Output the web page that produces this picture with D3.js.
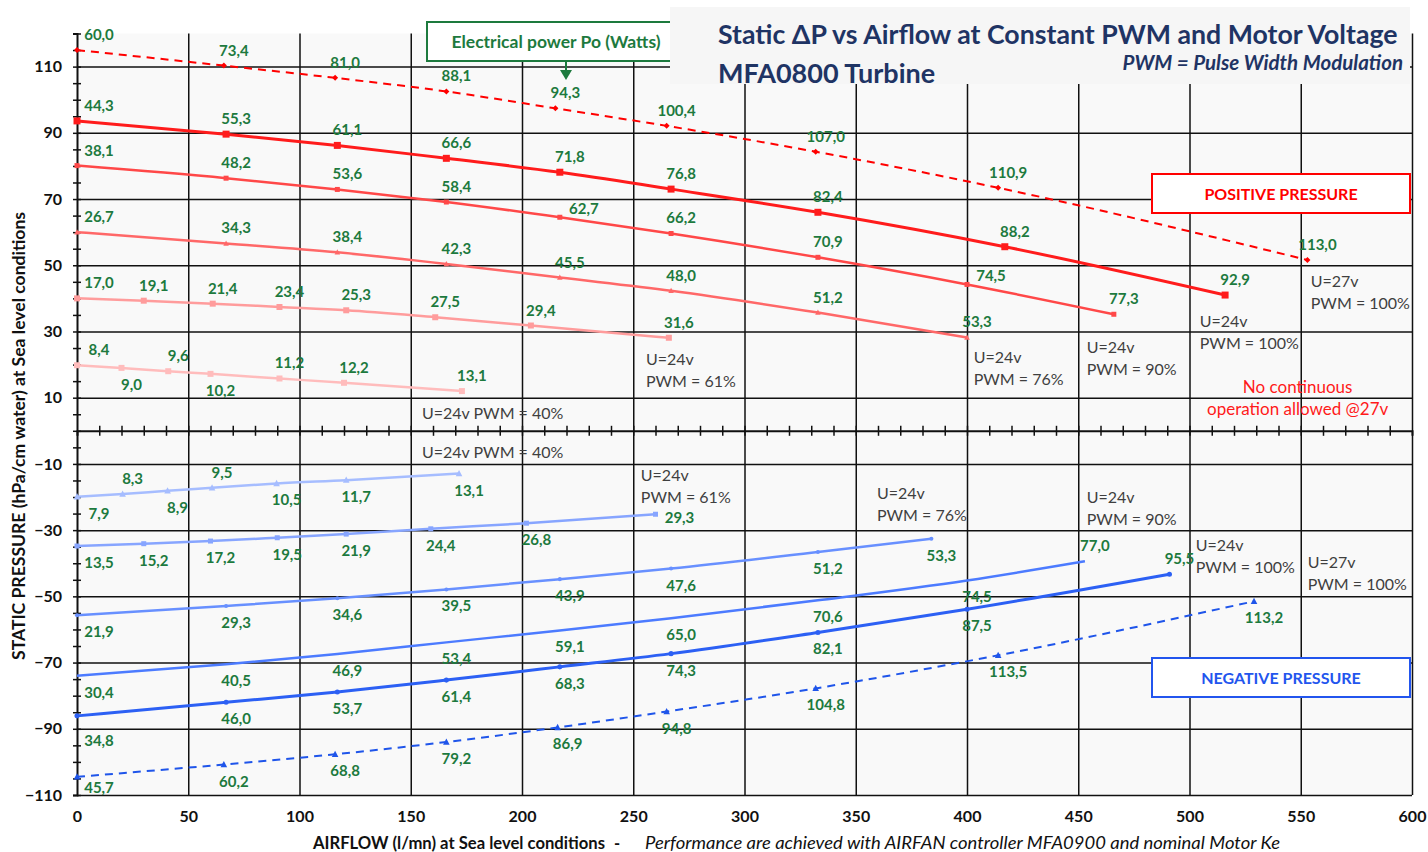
<!DOCTYPE html>
<html>
<head>
<meta charset="utf-8">
<script src="https://cdn.jsdelivr.net/npm/d3@7"></script>
<style>
  body { margin: 0; background: #fff; }
  svg { font-family: Lato, "Open Sans", sans-serif; }
</style>
</head>
<body>
<svg id="chart"></svg>
<script>
// ---- data (airflow l/mn, static pressure hPa, power W) ----
// positive pressure
const p27Flow  = [0, 66, 116, 166, 215, 265, 332, 414, 553];
const p27Press = [115, 110.3, 106.6, 102.5, 97.4, 92.1, 84.3, 73.4, 51.6];
const p27Watts = [60.0, 73.4, 81.0, 88.1, 94.3, 100.4, 107.0, 110.9, 113.0];

const p100Flow  = [0, 67, 117, 166, 217, 267, 333, 417, 516];
const p100Press = [93.6, 89.6, 86.2, 82.3, 78.1, 73.0, 66.0, 55.6, 41.0];
const p100Watts = [44.3, 55.3, 61.1, 66.6, 71.8, 76.8, 82.4, 88.2, 92.9];

const p90Flow  = [0, 67, 117, 166, 217, 267, 333, 400, 466];
const p90Press = [80.1, 76.3, 72.9, 69.1, 64.5, 59.6, 52.4, 44.2, 35.2];
const p90Watts = [38.1, 48.2, 53.6, 58.4, 62.7, 66.2, 70.9, 74.5, 77.3];

const p76Flow  = [0, 67, 117, 166, 217, 267, 333, 400];
const p76Press = [60.0, 56.6, 53.9, 50.4, 46.3, 42.3, 35.7, 28.2];
const p76Watts = [26.7, 34.3, 38.4, 42.3, 45.5, 48.0, 51.2, 53.3];

const p61Flow  = [0, 30, 61, 91, 121, 161, 204, 266];
const p61Press = [40.0, 39.3, 38.4, 37.4, 36.4, 34.3, 31.8, 28.1];
const p61Watts = [17.0, 19.1, 21.4, 23.4, 25.3, 27.5, 29.4, 31.6];

const p40Flow  = [0, 20, 41, 60, 91, 120, 173];
const p40Press = [19.8, 19.0, 18.0, 17.2, 15.8, 14.5, 12.0];
const p40Watts = [8.4, 9.0, 9.6, 10.2, 11.2, 12.2, 13.1];

// negative pressure
const n40Flow  = [0, 20.5, 40.7, 60.7, 89.7, 121, 171.7];
const n40Press = [-19.9, -19.1, -18.1, -17.2, -15.9, -14.9, -12.9];
const n40Watts = [7.9, 8.3, 8.9, 9.5, 10.5, 11.7, 13.1];

const n61Flow  = [0, 30, 60, 90, 121, 159, 202, 260];
const n61Press = [-34.8, -34.1, -33.3, -32.3, -31.2, -29.6, -27.9, -25.2];
const n61Watts = [13.5, 15.2, 17.2, 19.5, 21.9, 24.4, 26.8, 29.3];

const n76Flow  = [0, 67, 117, 166, 217, 267, 333, 384];
const n76Press = [-55.7, -52.9, -50.6, -47.9, -44.8, -41.6, -36.6, -32.6];
const n76Watts = [21.9, 29.3, 34.6, 39.5, 43.9, 47.6, 51.2, 53.3];

const n90Flow  = [0, 67, 117, 166, 217, 267, 333, 400, 453];
const n90Press = [-74.0, -70.5, -67.4, -63.9, -60.3, -56.6, -51.2, -45.2, -39.4];
const n90Watts = [30.4, 40.5, 46.9, 53.4, 59.1, 65.0, 70.6, 74.5, 77.0];

const n100Flow  = [0, 67, 117, 166, 217, 267, 333, 400, 491];
const n100Press = [-86.1, -82.0, -78.9, -75.3, -71.3, -67.3, -60.9, -53.9, -43.3];
const n100Watts = [34.8, 46.0, 53.7, 61.4, 68.3, 74.3, 82.1, 87.5, 95.5];

const n27Flow  = [0, 66, 116, 166, 216, 265, 332, 414, 529];
const n27Press = [-104.5, -100.8, -97.7, -94.0, -89.6, -84.8, -77.8, -67.8, -51.5];
const n27Watts = [45.7, 60.2, 68.8, 79.2, 86.9, 94.8, 104.8, 113.5, 113.2];

const xTicks = d3.range(0, 601, 50);
const yTicks = d3.range(-110, 111, 20);

// ---- layout ----
const W = 1428, H = 852;
const margin = {top: 33.5, right: 16, bottom: 57, left: 77};
const width = W - margin.left - margin.right,
      height = H - margin.top - margin.bottom;

const svg = d3.select("#chart").attr("width", W).attr("height", H);

const x = d3.scaleLinear().domain([0, 600]).range([margin.left, margin.left + width]);
const y = d3.scaleLinear().domain([-110, 120]).range([margin.top + height, margin.top]);

const green = "#1d7a3e", navy = "#1f3464", grey = "#3f3f3f";
const fmt = v => d3.format(".1f")(v).replace(".", ",");

// plot background
svg.append("rect")
    .attr("x", x(0)).attr("y", y(120))
    .attr("width", x(600) - x(0)).attr("height", y(-110) - y(120))
    .attr("fill", "#f9f9f9");

// vertical grid
svg.append("g")
    .attr("transform", `translate(0,${y(-110)})`)
    .call(d3.axisBottom(x).tickValues(xTicks.slice(1)).tickSize(-(y(-110) - y(120))).tickFormat(""))
    .call(g => g.select(".domain").remove())
    .call(g => g.selectAll(".tick line").attr("stroke", "#111").attr("stroke-width", 1.5));

// horizontal grid
svg.append("g")
    .attr("transform", `translate(${x(0)},0)`)
    .call(d3.axisLeft(y).tickValues(yTicks).tickSize(-width).tickFormat(""))
    .call(g => g.select(".domain").remove())
    .call(g => g.selectAll(".tick line").attr("stroke", "#111").attr("stroke-width", 1.5));

// y axis with crossing minor ticks
svg.append("g")
    .attr("transform", `translate(${x(0)},0)`)
    .call(d3.axisLeft(y).tickValues(d3.range(-110, 121, 5)).tickSize(4).tickFormat(""))
    .call(g => g.select(".domain").attr("stroke", "#111").attr("stroke-width", 2))
    .call(g => g.selectAll(".tick line").attr("x1", 4).attr("stroke", "#111").attr("stroke-width", 1.5));

// x axis at zero pressure with crossing minor ticks
svg.append("g")
    .attr("transform", `translate(0,${y(0)})`)
    .call(d3.axisBottom(x).tickValues(d3.range(10, 600, 10)).tickSize(5).tickFormat(""))
    .call(g => g.select(".domain").attr("stroke", "#111").attr("stroke-width", 2))
    .call(g => g.selectAll(".tick line").attr("y1", -5).attr("stroke", "#111").attr("stroke-width", 1.5));

// tick labels
svg.append("g")
    .attr("transform", `translate(0,${y(-110)})`)
    .call(d3.axisBottom(x).tickValues(xTicks).tickSize(0).tickPadding(16))
    .call(g => g.select(".domain").remove())
    .call(g => g.selectAll("text").attr("font-size", 16).attr("font-weight", "bold").attr("fill", "#111")
        .attr("font-family", "Lato, sans-serif"));

svg.append("g")
    .attr("transform", `translate(${x(0)},0)`)
    .call(d3.axisLeft(y).tickValues(yTicks).tickSize(0).tickPadding(15))
    .call(g => g.select(".domain").remove())
    .call(g => g.selectAll("text").attr("font-size", 16).attr("font-weight", "bold").attr("fill", "#111")
        .attr("font-family", "Lato, sans-serif"));

// axis titles
svg.append("text")
    .attr("transform", `translate(25,436) rotate(-90)`)
    .attr("text-anchor", "middle")
    .attr("font-size", 16.5).attr("font-weight", "bold").attr("fill", "#111")
    .attr("textLength", 448).attr("lengthAdjust", "spacingAndGlyphs")
    .text("STATIC PRESSURE (hPa/cm water) at Sea level conditions");

const xTitle = svg.append("text")
    .attr("y", 849)
    .attr("fill", "#111");
xTitle.append("tspan").attr("x", 313).attr("font-size", 16.5).attr("font-weight", "bold")
    .attr("textLength", 292).attr("lengthAdjust", "spacingAndGlyphs")
    .text("AIRFLOW (l/mn) at Sea level conditions");
xTitle.append("tspan").attr("x", 614).attr("font-size", 16.5).attr("font-weight", "bold").text("-");
xTitle.append("tspan").attr("x", 645).attr("font-size", 17).attr("font-style", "italic")
    .attr("textLength", 635).attr("lengthAdjust", "spacingAndGlyphs")
    .text("Performance are achieved with AIRFAN controller MFA0900 and nominal Motor Ke");

// ---- series ----
const series = [
  {flow: p27Flow, press: p27Press, watts: p27Watts, color: "#ff0000", lw: 2, dash: "8,6", marker: "diamond", ms: 5},
  {flow: p100Flow, press: p100Press, watts: p100Watts, color: "#ff1c1c", lw: 3, marker: "square", ms: 7},
  {flow: p90Flow, press: p90Press, watts: p90Watts, color: "#ff4848", lw: 2.5, marker: "square", ms: 5, nudge: [4, 7]},
  {flow: p76Flow, press: p76Press, watts: p76Watts, color: "#ff6868", lw: 2.5, marker: "triangle", ms: 5},
  {flow: p61Flow, press: p61Press, watts: p61Watts, color: "#ff9c9c", lw: 2.5, marker: "square", ms: 6},
  {flow: p40Flow, press: p40Press, watts: p40Watts, color: "#ffbcbc", lw: 2.5, marker: "square", ms: 6, flip: [1, 3]},
  {flow: n40Flow, press: n40Press, watts: n40Watts, color: "#a6bdff", lw: 2.5, marker: "triangle", ms: 6, flip: [1, 3]},
  {flow: n61Flow, press: n61Press, watts: n61Watts, color: "#87a5ff", lw: 2.5, marker: "square", ms: 5, right: [7]},
  {flow: n76Flow, press: n76Press, watts: n76Watts, color: "#6890ff", lw: 2.5, marker: "circle", ms: 4},
  {flow: n90Flow, press: n90Press, watts: n90Watts, color: "#4c7bff", lw: 2.5, marker: "none", ms: 0, flip: [8]},
  {flow: n100Flow, press: n100Press, watts: n100Watts, color: "#2c60f4", lw: 3, marker: "circle", ms: 5, flip: [8], firstGap: 24},
  {flow: n27Flow, press: n27Press, watts: n27Watts, color: "#1f55ea", lw: 2, dash: "8,6", marker: "triangle", ms: 6, firstGap: 10}
];

const line = d3.line().x(d => x(d.f)).y(d => y(d.p)).curve(d3.curveMonotoneX);

const markerPath = {
  square: s => `M${-s/2},${-s/2}h${s}v${s}h${-s}Z`,
  triangle: s => `M0,${-s*0.6}L${s*0.55},${s*0.45}L${-s*0.55},${s*0.45}Z`,
  diamond: s => `M0,${-s*0.6}L${s*0.6},0L0,${s*0.6}L${-s*0.6},0Z`,
  circle: s => d3.symbol(d3.symbolCircle, s * s * 0.8)()
};

const labels = svg.append("g");

series.forEach(s => {
  const pts = s.flow.map((f, i) => ({f, p: s.press[i], w: s.watts[i], i}));
  svg.append("path")
      .datum(pts)
      .attr("d", line)
      .attr("fill", "none")
      .attr("stroke", s.color)
      .attr("stroke-width", s.lw)
      .attr("stroke-dasharray", s.dash || null);

  if (s.marker !== "none") {
    svg.append("g").selectAll("path")
      .data(pts)
      .join("path")
        .attr("transform", d => `translate(${x(d.f)},${y(d.p)})`)
        .attr("d", markerPath[s.marker](s.ms))
        .attr("fill", s.color);
  }

  const positive = s.press[0] > 0;
  const nudged = d => s.nudge && s.nudge.includes(d.i);
  labels.selectAll(null)
    .data(pts)
    .join("text")
      .attr("x", d => {
        if (s.right && s.right.includes(d.i)) return x(d.f) + 24;
        if (nudged(d)) return x(d.f) + 24;
        return x(d.f) + (d.i === 0 ? 22 : 10);
      })
      .attr("y", d => {
        if (s.right && s.right.includes(d.i)) return y(d.p) + 3;
        if (nudged(d)) return y(d.p) - 9;
        let above = positive;
        if (s.flip && s.flip.includes(d.i)) above = !above;
        const gap = (d.i === 0 && s.firstGap) ? s.firstGap : 16;
        return y(d.p) + (above ? -gap : gap);
      })
      .attr("text-anchor", "middle")
      .attr("dominant-baseline", "central")
      .attr("font-size", 15).attr("font-weight", "bold").attr("fill", green)
      .text(d => fmt(d.w));
});

// ---- operating point notes ----
const notes = [
  {f: 155, p: 5.6, lines: ["U=24v PWM = 40%"]},
  {f: 155, p: -6.1, lines: ["U=24v PWM = 40%"]},
  {f: 255.7, p: 22, lines: ["U=24v", "PWM = 61%"]},
  {f: 253.4, p: -13.1, lines: ["U=24v", "PWM = 61%"]},
  {f: 403, p: 22.6, lines: ["U=24v", "PWM = 76%"]},
  {f: 359.5, p: -18.5, lines: ["U=24v", "PWM = 76%"]},
  {f: 453.8, p: 25.6, lines: ["U=24v", "PWM = 90%"]},
  {f: 453.8, p: -19.7, lines: ["U=24v", "PWM = 90%"]},
  {f: 504.6, p: 33.4, lines: ["U=24v", "PWM = 100%"]},
  {f: 502.8, p: -34.2, lines: ["U=24v", "PWM = 100%"]},
  {f: 554.5, p: 45.5, lines: ["U=27v", "PWM = 100%"]},
  {f: 553.1, p: -39.3, lines: ["U=27v", "PWM = 100%"]}
];

notes.forEach(n => {
  const t = svg.append("text")
      .attr("font-size", 16).attr("fill", grey)
      .attr("dominant-baseline", "central");
  n.lines.forEach((l, i) => t.append("tspan")
      .attr("x", x(n.f)).attr("y", y(n.p) + i * 22).text(l));
});

const warn = svg.append("text")
    .attr("text-anchor", "middle").attr("dominant-baseline", "central")
    .attr("font-size", 17).attr("fill", "#ff1a1a");
["No continuous", "operation allowed @27v"].forEach((l, i) => warn.append("tspan")
    .attr("x", x(548.6)).attr("y", y(13.5) + i * 22).text(l));

// ---- boxes ----
function box(x0, y0, w, h, stroke, color, label, fs) {
  svg.append("rect").attr("x", x0).attr("y", y0).attr("width", w).attr("height", h)
      .attr("fill", "#fff").attr("stroke", stroke).attr("stroke-width", 2);
  svg.append("text").attr("x", x0 + w / 2).attr("y", y0 + h / 2)
      .attr("text-anchor", "middle").attr("dominant-baseline", "central")
      .attr("font-size", fs).attr("font-weight", "bold").attr("fill", color)
      .text(label);
}

box(1152, 174, 258, 39, "#ff0000", "#ff0000", "POSITIVE PRESSURE", 16);
box(1152, 658, 258, 39, "#2255ee", "#2255ee", "NEGATIVE PRESSURE", 16);
box(427, 22, 258, 39, green, green, "Electrical power Po (Watts)", 17.5);

// arrow from the power box
svg.append("line").attr("x1", 566).attr("x2", 566).attr("y1", 62).attr("y2", 72)
    .attr("stroke", green).attr("stroke-width", 2);
svg.append("path").attr("d", "M560,70L572,70L566,80Z").attr("fill", green);

// ---- title block ----
svg.append("rect").attr("x", 670).attr("y", 7).attr("width", 740).attr("height", 77)
    .attr("fill", "#f6f6f6");
svg.append("text").attr("x", 718).attr("y", 44)
    .attr("font-size", 26.7).attr("font-weight", "bold").attr("fill", navy)
    .text("Static ΔP vs Airflow at Constant PWM and Motor Voltage");
svg.append("text").attr("x", 718).attr("y", 83)
    .attr("font-size", 27).attr("font-weight", "bold").attr("fill", navy)
    .text("MFA0800 Turbine");
svg.append("text").attr("x", 1403).attr("y", 70).attr("text-anchor", "end")
    .attr("font-size", 20.5).attr("font-weight", "bold").attr("font-style", "italic").attr("fill", navy)
    .text("PWM = Pulse Width Modulation");
</script>
</body>
</html>
